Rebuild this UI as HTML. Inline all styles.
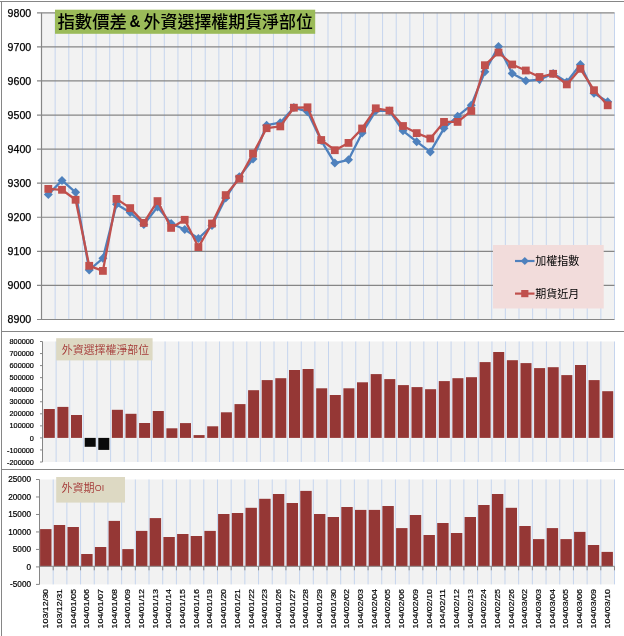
<!DOCTYPE html>
<html lang="zh-Hant"><head><meta charset="utf-8"><title>指數價差 &amp; 外資選擇權期貨淨部位</title>
<style>html,body{margin:0;padding:0;background:#fff}svg{display:block}</style></head>
<body>
<svg width="624" height="636" viewBox="0 0 624 636">
<rect width="624" height="636" fill="#fff"/>
<g fill="#868686" shape-rendering="crispEdges">
<rect x="0" y="1" width="624" height="1"/>
<rect x="1" y="1" width="1" height="636"/>
<rect x="1" y="331" width="624" height="1"/>
<rect x="1" y="468.5" width="624" height="1"/>
</g>
<rect x="41.5" y="12.8" width="573.0" height="306.7" fill="#f2f2f2"/>
<g stroke="#c6d5ee" stroke-width="1">
<line x1="55.14" y1="12.8" x2="55.14" y2="319.5"/>
<line x1="68.79" y1="12.8" x2="68.79" y2="319.5"/>
<line x1="82.43" y1="12.8" x2="82.43" y2="319.5"/>
<line x1="96.07" y1="12.8" x2="96.07" y2="319.5"/>
<line x1="109.71" y1="12.8" x2="109.71" y2="319.5"/>
<line x1="123.36" y1="12.8" x2="123.36" y2="319.5"/>
<line x1="137.00" y1="12.8" x2="137.00" y2="319.5"/>
<line x1="150.64" y1="12.8" x2="150.64" y2="319.5"/>
<line x1="164.29" y1="12.8" x2="164.29" y2="319.5"/>
<line x1="177.93" y1="12.8" x2="177.93" y2="319.5"/>
<line x1="191.57" y1="12.8" x2="191.57" y2="319.5"/>
<line x1="205.21" y1="12.8" x2="205.21" y2="319.5"/>
<line x1="218.86" y1="12.8" x2="218.86" y2="319.5"/>
<line x1="232.50" y1="12.8" x2="232.50" y2="319.5"/>
<line x1="246.14" y1="12.8" x2="246.14" y2="319.5"/>
<line x1="259.79" y1="12.8" x2="259.79" y2="319.5"/>
<line x1="273.43" y1="12.8" x2="273.43" y2="319.5"/>
<line x1="287.07" y1="12.8" x2="287.07" y2="319.5"/>
<line x1="300.71" y1="12.8" x2="300.71" y2="319.5"/>
<line x1="314.36" y1="12.8" x2="314.36" y2="319.5"/>
<line x1="328.00" y1="12.8" x2="328.00" y2="319.5"/>
<line x1="341.64" y1="12.8" x2="341.64" y2="319.5"/>
<line x1="355.29" y1="12.8" x2="355.29" y2="319.5"/>
<line x1="368.93" y1="12.8" x2="368.93" y2="319.5"/>
<line x1="382.57" y1="12.8" x2="382.57" y2="319.5"/>
<line x1="396.21" y1="12.8" x2="396.21" y2="319.5"/>
<line x1="409.86" y1="12.8" x2="409.86" y2="319.5"/>
<line x1="423.50" y1="12.8" x2="423.50" y2="319.5"/>
<line x1="437.14" y1="12.8" x2="437.14" y2="319.5"/>
<line x1="450.79" y1="12.8" x2="450.79" y2="319.5"/>
<line x1="464.43" y1="12.8" x2="464.43" y2="319.5"/>
<line x1="478.07" y1="12.8" x2="478.07" y2="319.5"/>
<line x1="491.71" y1="12.8" x2="491.71" y2="319.5"/>
<line x1="505.36" y1="12.8" x2="505.36" y2="319.5"/>
<line x1="519.00" y1="12.8" x2="519.00" y2="319.5"/>
<line x1="532.64" y1="12.8" x2="532.64" y2="319.5"/>
<line x1="546.29" y1="12.8" x2="546.29" y2="319.5"/>
<line x1="559.93" y1="12.8" x2="559.93" y2="319.5"/>
<line x1="573.57" y1="12.8" x2="573.57" y2="319.5"/>
<line x1="587.21" y1="12.8" x2="587.21" y2="319.5"/>
<line x1="600.86" y1="12.8" x2="600.86" y2="319.5"/>
<line x1="614.50" y1="12.8" x2="614.50" y2="319.5"/>
</g>
<g stroke="#868686" stroke-width="1.2">
<line x1="37.0" y1="12.80" x2="614.5" y2="12.80"/>
<line x1="37.0" y1="46.88" x2="614.5" y2="46.88"/>
<line x1="37.0" y1="80.96" x2="614.5" y2="80.96"/>
<line x1="37.0" y1="115.03" x2="614.5" y2="115.03"/>
<line x1="37.0" y1="149.11" x2="614.5" y2="149.11"/>
<line x1="37.0" y1="183.19" x2="614.5" y2="183.19"/>
<line x1="37.0" y1="217.27" x2="614.5" y2="217.27"/>
<line x1="37.0" y1="251.34" x2="614.5" y2="251.34"/>
<line x1="37.0" y1="285.42" x2="614.5" y2="285.42"/>
<line x1="37.0" y1="319.50" x2="614.5" y2="319.50"/>
<line x1="41.5" y1="12.8" x2="41.5" y2="319.5"/>
</g>
<g font-family="'Liberation Sans', sans-serif" font-size="10.6" fill="#000" stroke="#000" stroke-width="0.25" text-anchor="end">
<text x="31.2" y="16.70">9800</text>
<text x="31.2" y="50.78">9700</text>
<text x="31.2" y="84.86">9600</text>
<text x="31.2" y="118.93">9500</text>
<text x="31.2" y="153.01">9400</text>
<text x="31.2" y="187.09">9300</text>
<text x="31.2" y="221.17">9200</text>
<text x="31.2" y="255.24">9100</text>
<text x="31.2" y="289.32">9000</text>
<text x="31.2" y="323.40">8900</text>
</g>
<rect x="55" y="9.7" width="260.2" height="24.1" fill="#9bbb59"/>
<g font-family="'Liberation Sans', 'Noto Sans CJK TC', sans-serif" font-size="17.3" font-weight="500" fill="#000">
<text x="57.4" y="28.2" textLength="69.6" lengthAdjust="spacingAndGlyphs">指數價差</text>
<text x="129.5" y="27" font-size="17" font-weight="bold" textLength="10.9" lengthAdjust="spacingAndGlyphs">&amp;</text>
<text x="143.6" y="28.2" textLength="169.3" lengthAdjust="spacingAndGlyphs">外資選擇權期貨淨部位</text>
</g>
<rect x="493" y="245" width="110.7" height="63.5" fill="#f2dcdb"/>
<polyline points="48.3,194.5 62.0,180.4 75.6,192.3 89.2,270.0 102.9,258.3 116.5,204.3 130.2,212.5 143.8,224.6 157.5,207.0 171.1,223.5 184.8,229.5 198.4,238.5 212.0,225.5 225.7,198.1 239.3,176.7 253.0,159.1 266.6,125.2 280.2,122.7 293.9,107.6 307.5,111.7 321.2,140.6 334.8,163.1 348.5,159.8 362.1,132.9 375.8,110.8 389.4,110.9 403.0,130.8 416.7,141.7 430.3,151.9 444.0,128.3 457.6,116.2 471.2,105.2 484.9,71.8 498.5,46.4 512.2,73.4 525.8,80.8 539.5,79.6 553.1,73.4 566.8,82.0 580.4,64.5 594.0,93.3 607.7,101.7" fill="none" stroke="#4f81bd" stroke-width="2.3" stroke-linejoin="round"/>
<path d="M48.3 190.0L52.8 194.5L48.3 199.0L43.8 194.5Z" fill="#4f81bd"/>
<path d="M62.0 175.9L66.5 180.4L62.0 184.9L57.5 180.4Z" fill="#4f81bd"/>
<path d="M75.6 187.8L80.1 192.3L75.6 196.8L71.1 192.3Z" fill="#4f81bd"/>
<path d="M89.2 265.5L93.8 270.0L89.2 274.5L84.8 270.0Z" fill="#4f81bd"/>
<path d="M102.9 253.8L107.4 258.3L102.9 262.8L98.4 258.3Z" fill="#4f81bd"/>
<path d="M116.5 199.8L121.0 204.3L116.5 208.8L112.0 204.3Z" fill="#4f81bd"/>
<path d="M130.2 208.0L134.7 212.5L130.2 217.0L125.7 212.5Z" fill="#4f81bd"/>
<path d="M143.8 220.1L148.3 224.6L143.8 229.1L139.3 224.6Z" fill="#4f81bd"/>
<path d="M157.5 202.5L162.0 207.0L157.5 211.5L153.0 207.0Z" fill="#4f81bd"/>
<path d="M171.1 219.0L175.6 223.5L171.1 228.0L166.6 223.5Z" fill="#4f81bd"/>
<path d="M184.8 225.0L189.2 229.5L184.8 234.0L180.2 229.5Z" fill="#4f81bd"/>
<path d="M198.4 234.0L202.9 238.5L198.4 243.0L193.9 238.5Z" fill="#4f81bd"/>
<path d="M212.0 221.0L216.5 225.5L212.0 230.0L207.5 225.5Z" fill="#4f81bd"/>
<path d="M225.7 193.6L230.2 198.1L225.7 202.6L221.2 198.1Z" fill="#4f81bd"/>
<path d="M239.3 172.2L243.8 176.7L239.3 181.2L234.8 176.7Z" fill="#4f81bd"/>
<path d="M253.0 154.6L257.5 159.1L253.0 163.6L248.5 159.1Z" fill="#4f81bd"/>
<path d="M266.6 120.7L271.1 125.2L266.6 129.7L262.1 125.2Z" fill="#4f81bd"/>
<path d="M280.2 118.2L284.8 122.7L280.2 127.2L275.8 122.7Z" fill="#4f81bd"/>
<path d="M293.9 103.1L298.4 107.6L293.9 112.1L289.4 107.6Z" fill="#4f81bd"/>
<path d="M307.5 107.2L312.0 111.7L307.5 116.2L303.0 111.7Z" fill="#4f81bd"/>
<path d="M321.2 136.1L325.7 140.6L321.2 145.1L316.7 140.6Z" fill="#4f81bd"/>
<path d="M334.8 158.6L339.3 163.1L334.8 167.6L330.3 163.1Z" fill="#4f81bd"/>
<path d="M348.5 155.3L353.0 159.8L348.5 164.3L344.0 159.8Z" fill="#4f81bd"/>
<path d="M362.1 128.4L366.6 132.9L362.1 137.4L357.6 132.9Z" fill="#4f81bd"/>
<path d="M375.8 106.3L380.2 110.8L375.8 115.3L371.2 110.8Z" fill="#4f81bd"/>
<path d="M389.4 106.4L393.9 110.9L389.4 115.4L384.9 110.9Z" fill="#4f81bd"/>
<path d="M403.0 126.3L407.5 130.8L403.0 135.3L398.5 130.8Z" fill="#4f81bd"/>
<path d="M416.7 137.2L421.2 141.7L416.7 146.2L412.2 141.7Z" fill="#4f81bd"/>
<path d="M430.3 147.4L434.8 151.9L430.3 156.4L425.8 151.9Z" fill="#4f81bd"/>
<path d="M444.0 123.8L448.5 128.3L444.0 132.8L439.5 128.3Z" fill="#4f81bd"/>
<path d="M457.6 111.7L462.1 116.2L457.6 120.7L453.1 116.2Z" fill="#4f81bd"/>
<path d="M471.2 100.7L475.8 105.2L471.2 109.7L466.8 105.2Z" fill="#4f81bd"/>
<path d="M484.9 67.3L489.4 71.8L484.9 76.3L480.4 71.8Z" fill="#4f81bd"/>
<path d="M498.5 41.9L503.0 46.4L498.5 50.9L494.0 46.4Z" fill="#4f81bd"/>
<path d="M512.2 68.9L516.7 73.4L512.2 77.9L507.7 73.4Z" fill="#4f81bd"/>
<path d="M525.8 76.3L530.3 80.8L525.8 85.3L521.3 80.8Z" fill="#4f81bd"/>
<path d="M539.5 75.1L544.0 79.6L539.5 84.1L535.0 79.6Z" fill="#4f81bd"/>
<path d="M553.1 68.9L557.6 73.4L553.1 77.9L548.6 73.4Z" fill="#4f81bd"/>
<path d="M566.8 77.5L571.2 82.0L566.8 86.5L562.2 82.0Z" fill="#4f81bd"/>
<path d="M580.4 60.0L584.9 64.5L580.4 69.0L575.9 64.5Z" fill="#4f81bd"/>
<path d="M594.0 88.8L598.5 93.3L594.0 97.8L589.5 93.3Z" fill="#4f81bd"/>
<path d="M607.7 97.2L612.2 101.7L607.7 106.2L603.2 101.7Z" fill="#4f81bd"/>
<polyline points="48.3,188.9 62.0,189.8 75.6,199.8 89.2,265.8 102.9,270.9 116.5,198.9 130.2,208.1 143.8,222.9 157.5,201.1 171.1,227.9 184.8,219.8 198.4,247.1 212.0,223.5 225.7,195.1 239.3,178.7 253.0,153.6 266.6,128.2 280.2,126.4 293.9,107.7 307.5,107.3 321.2,140.0 334.8,150.2 348.5,142.9 362.1,128.5 375.8,108.3 389.4,110.6 403.0,126.0 416.7,133.1 430.3,138.5 444.0,121.9 457.6,121.9 471.2,111.0 484.9,65.2 498.5,52.5 512.2,64.5 525.8,70.5 539.5,77.0 553.1,73.8 566.8,84.4 580.4,68.8 594.0,90.2 607.7,105.3" fill="none" stroke="#c0504d" stroke-width="2.3" stroke-linejoin="round"/>
<rect x="44.4" y="185.0" width="7.8" height="7.8" fill="#c0504d"/>
<rect x="58.1" y="185.9" width="7.8" height="7.8" fill="#c0504d"/>
<rect x="71.7" y="195.9" width="7.8" height="7.8" fill="#c0504d"/>
<rect x="85.3" y="261.9" width="7.8" height="7.8" fill="#c0504d"/>
<rect x="99.0" y="267.0" width="7.8" height="7.8" fill="#c0504d"/>
<rect x="112.6" y="195.0" width="7.8" height="7.8" fill="#c0504d"/>
<rect x="126.3" y="204.2" width="7.8" height="7.8" fill="#c0504d"/>
<rect x="139.9" y="219.0" width="7.8" height="7.8" fill="#c0504d"/>
<rect x="153.6" y="197.2" width="7.8" height="7.8" fill="#c0504d"/>
<rect x="167.2" y="224.0" width="7.8" height="7.8" fill="#c0504d"/>
<rect x="180.8" y="215.9" width="7.8" height="7.8" fill="#c0504d"/>
<rect x="194.5" y="243.2" width="7.8" height="7.8" fill="#c0504d"/>
<rect x="208.1" y="219.6" width="7.8" height="7.8" fill="#c0504d"/>
<rect x="221.8" y="191.2" width="7.8" height="7.8" fill="#c0504d"/>
<rect x="235.4" y="174.8" width="7.8" height="7.8" fill="#c0504d"/>
<rect x="249.1" y="149.7" width="7.8" height="7.8" fill="#c0504d"/>
<rect x="262.7" y="124.3" width="7.8" height="7.8" fill="#c0504d"/>
<rect x="276.4" y="122.5" width="7.8" height="7.8" fill="#c0504d"/>
<rect x="290.0" y="103.8" width="7.8" height="7.8" fill="#c0504d"/>
<rect x="303.6" y="103.4" width="7.8" height="7.8" fill="#c0504d"/>
<rect x="317.3" y="136.1" width="7.8" height="7.8" fill="#c0504d"/>
<rect x="330.9" y="146.3" width="7.8" height="7.8" fill="#c0504d"/>
<rect x="344.6" y="139.0" width="7.8" height="7.8" fill="#c0504d"/>
<rect x="358.2" y="124.6" width="7.8" height="7.8" fill="#c0504d"/>
<rect x="371.9" y="104.4" width="7.8" height="7.8" fill="#c0504d"/>
<rect x="385.5" y="106.7" width="7.8" height="7.8" fill="#c0504d"/>
<rect x="399.1" y="122.1" width="7.8" height="7.8" fill="#c0504d"/>
<rect x="412.8" y="129.2" width="7.8" height="7.8" fill="#c0504d"/>
<rect x="426.4" y="134.6" width="7.8" height="7.8" fill="#c0504d"/>
<rect x="440.1" y="118.0" width="7.8" height="7.8" fill="#c0504d"/>
<rect x="453.7" y="118.0" width="7.8" height="7.8" fill="#c0504d"/>
<rect x="467.4" y="107.1" width="7.8" height="7.8" fill="#c0504d"/>
<rect x="481.0" y="61.3" width="7.8" height="7.8" fill="#c0504d"/>
<rect x="494.6" y="48.6" width="7.8" height="7.8" fill="#c0504d"/>
<rect x="508.3" y="60.6" width="7.8" height="7.8" fill="#c0504d"/>
<rect x="521.9" y="66.6" width="7.8" height="7.8" fill="#c0504d"/>
<rect x="535.6" y="73.1" width="7.8" height="7.8" fill="#c0504d"/>
<rect x="549.2" y="69.9" width="7.8" height="7.8" fill="#c0504d"/>
<rect x="562.9" y="80.5" width="7.8" height="7.8" fill="#c0504d"/>
<rect x="576.5" y="64.9" width="7.8" height="7.8" fill="#c0504d"/>
<rect x="590.1" y="86.3" width="7.8" height="7.8" fill="#c0504d"/>
<rect x="603.8" y="101.4" width="7.8" height="7.8" fill="#c0504d"/>
<line x1="515" y1="261" x2="534.5" y2="261" stroke="#4f81bd" stroke-width="2.2"/>
<path d="M524.8 256.9L528.9 261L524.8 265.1L520.7 261Z" fill="#4f81bd"/>
<line x1="515" y1="293.6" x2="534.5" y2="293.6" stroke="#c0504d" stroke-width="2.2"/>
<rect x="521.2" y="290" width="7.2" height="7.2" fill="#c0504d"/>
<g font-family="'Liberation Sans', 'Noto Sans CJK TC', sans-serif" font-size="11" fill="#000">
<text x="535.2" y="265">加權指數</text>
<text x="535.2" y="297.6">期貨近月</text>
</g>
<rect x="42.5" y="341.5" width="572.0" height="120.5" fill="#f2f2f2"/>
<g stroke="#c6d5ee" stroke-width="1">
<line x1="56.12" y1="341.5" x2="56.12" y2="462.0"/>
<line x1="69.74" y1="341.5" x2="69.74" y2="462.0"/>
<line x1="83.36" y1="341.5" x2="83.36" y2="462.0"/>
<line x1="96.98" y1="341.5" x2="96.98" y2="462.0"/>
<line x1="110.60" y1="341.5" x2="110.60" y2="462.0"/>
<line x1="124.21" y1="341.5" x2="124.21" y2="462.0"/>
<line x1="137.83" y1="341.5" x2="137.83" y2="462.0"/>
<line x1="151.45" y1="341.5" x2="151.45" y2="462.0"/>
<line x1="165.07" y1="341.5" x2="165.07" y2="462.0"/>
<line x1="178.69" y1="341.5" x2="178.69" y2="462.0"/>
<line x1="192.31" y1="341.5" x2="192.31" y2="462.0"/>
<line x1="205.93" y1="341.5" x2="205.93" y2="462.0"/>
<line x1="219.55" y1="341.5" x2="219.55" y2="462.0"/>
<line x1="233.17" y1="341.5" x2="233.17" y2="462.0"/>
<line x1="246.79" y1="341.5" x2="246.79" y2="462.0"/>
<line x1="260.40" y1="341.5" x2="260.40" y2="462.0"/>
<line x1="274.02" y1="341.5" x2="274.02" y2="462.0"/>
<line x1="287.64" y1="341.5" x2="287.64" y2="462.0"/>
<line x1="301.26" y1="341.5" x2="301.26" y2="462.0"/>
<line x1="314.88" y1="341.5" x2="314.88" y2="462.0"/>
<line x1="328.50" y1="341.5" x2="328.50" y2="462.0"/>
<line x1="342.12" y1="341.5" x2="342.12" y2="462.0"/>
<line x1="355.74" y1="341.5" x2="355.74" y2="462.0"/>
<line x1="369.36" y1="341.5" x2="369.36" y2="462.0"/>
<line x1="382.98" y1="341.5" x2="382.98" y2="462.0"/>
<line x1="396.60" y1="341.5" x2="396.60" y2="462.0"/>
<line x1="410.21" y1="341.5" x2="410.21" y2="462.0"/>
<line x1="423.83" y1="341.5" x2="423.83" y2="462.0"/>
<line x1="437.45" y1="341.5" x2="437.45" y2="462.0"/>
<line x1="451.07" y1="341.5" x2="451.07" y2="462.0"/>
<line x1="464.69" y1="341.5" x2="464.69" y2="462.0"/>
<line x1="478.31" y1="341.5" x2="478.31" y2="462.0"/>
<line x1="491.93" y1="341.5" x2="491.93" y2="462.0"/>
<line x1="505.55" y1="341.5" x2="505.55" y2="462.0"/>
<line x1="519.17" y1="341.5" x2="519.17" y2="462.0"/>
<line x1="532.79" y1="341.5" x2="532.79" y2="462.0"/>
<line x1="546.40" y1="341.5" x2="546.40" y2="462.0"/>
<line x1="560.02" y1="341.5" x2="560.02" y2="462.0"/>
<line x1="573.64" y1="341.5" x2="573.64" y2="462.0"/>
<line x1="587.26" y1="341.5" x2="587.26" y2="462.0"/>
<line x1="600.88" y1="341.5" x2="600.88" y2="462.0"/>
<line x1="614.50" y1="341.5" x2="614.50" y2="462.0"/>
</g>
<g stroke="#868686" stroke-width="1">
<line x1="42.5" y1="341.5" x2="42.5" y2="462.0"/>
<line x1="40.0" y1="341.50" x2="42.5" y2="341.50"/>
<line x1="40.0" y1="353.55" x2="42.5" y2="353.55"/>
<line x1="40.0" y1="365.60" x2="42.5" y2="365.60"/>
<line x1="40.0" y1="377.65" x2="42.5" y2="377.65"/>
<line x1="40.0" y1="389.70" x2="42.5" y2="389.70"/>
<line x1="40.0" y1="401.75" x2="42.5" y2="401.75"/>
<line x1="40.0" y1="413.80" x2="42.5" y2="413.80"/>
<line x1="40.0" y1="425.85" x2="42.5" y2="425.85"/>
<line x1="40.0" y1="437.90" x2="42.5" y2="437.90"/>
<line x1="40.0" y1="449.95" x2="42.5" y2="449.95"/>
<line x1="40.0" y1="462.00" x2="42.5" y2="462.00"/>
</g>
<g font-family="'Liberation Sans', sans-serif" font-size="7.3" fill="#000" stroke="#000" stroke-width="0.2" text-anchor="end">
<text x="33.9" y="344.10">800000</text>
<text x="33.9" y="356.15">700000</text>
<text x="33.9" y="368.20">600000</text>
<text x="33.9" y="380.25">500000</text>
<text x="33.9" y="392.30">400000</text>
<text x="33.9" y="404.35">300000</text>
<text x="33.9" y="416.40">200000</text>
<text x="33.9" y="428.45">100000</text>
<text x="33.9" y="440.50">0</text>
<text x="33.9" y="452.55">-100000</text>
<text x="33.9" y="464.60">-200000</text>
</g>
<rect x="43.8" y="409.0" width="11.0" height="28.9" fill="#953735"/>
<rect x="57.4" y="406.9" width="11.0" height="31.0" fill="#953735"/>
<rect x="71.0" y="415.0" width="11.0" height="22.9" fill="#953735"/>
<rect x="84.7" y="437.9" width="11.0" height="8.9" fill="#0a0a0a"/>
<rect x="98.3" y="437.9" width="11.0" height="12.0" fill="#0a0a0a"/>
<rect x="111.9" y="409.8" width="11.0" height="28.1" fill="#953735"/>
<rect x="125.5" y="413.8" width="11.0" height="24.1" fill="#953735"/>
<rect x="139.1" y="423.0" width="11.0" height="14.9" fill="#953735"/>
<rect x="152.8" y="411.0" width="11.0" height="26.9" fill="#953735"/>
<rect x="166.4" y="428.3" width="11.0" height="9.6" fill="#953735"/>
<rect x="180.0" y="423.1" width="11.0" height="14.8" fill="#953735"/>
<rect x="193.6" y="435.1" width="11.0" height="2.8" fill="#953735"/>
<rect x="207.2" y="426.3" width="11.0" height="11.6" fill="#953735"/>
<rect x="220.9" y="412.3" width="11.0" height="25.6" fill="#953735"/>
<rect x="234.5" y="404.1" width="11.0" height="33.8" fill="#953735"/>
<rect x="248.1" y="390.2" width="11.0" height="47.7" fill="#953735"/>
<rect x="261.7" y="380.1" width="11.0" height="57.8" fill="#953735"/>
<rect x="275.3" y="378.2" width="11.0" height="59.7" fill="#953735"/>
<rect x="289.0" y="370.0" width="11.0" height="67.9" fill="#953735"/>
<rect x="302.6" y="369.0" width="11.0" height="68.9" fill="#953735"/>
<rect x="316.2" y="388.3" width="11.0" height="49.6" fill="#953735"/>
<rect x="329.8" y="395.0" width="11.0" height="42.9" fill="#953735"/>
<rect x="343.4" y="388.3" width="11.0" height="49.6" fill="#953735"/>
<rect x="357.0" y="382.3" width="11.0" height="55.6" fill="#953735"/>
<rect x="370.7" y="374.1" width="11.0" height="63.8" fill="#953735"/>
<rect x="384.3" y="379.1" width="11.0" height="58.8" fill="#953735"/>
<rect x="397.9" y="385.1" width="11.0" height="52.8" fill="#953735"/>
<rect x="411.5" y="387.1" width="11.0" height="50.8" fill="#953735"/>
<rect x="425.1" y="389.2" width="11.0" height="48.7" fill="#953735"/>
<rect x="438.8" y="381.1" width="11.0" height="56.8" fill="#953735"/>
<rect x="452.4" y="378.2" width="11.0" height="59.7" fill="#953735"/>
<rect x="466.0" y="377.2" width="11.0" height="60.7" fill="#953735"/>
<rect x="479.6" y="362.1" width="11.0" height="75.8" fill="#953735"/>
<rect x="493.2" y="352.0" width="11.0" height="85.9" fill="#953735"/>
<rect x="506.9" y="360.2" width="11.0" height="77.7" fill="#953735"/>
<rect x="520.5" y="363.1" width="11.0" height="74.8" fill="#953735"/>
<rect x="534.1" y="368.1" width="11.0" height="69.8" fill="#953735"/>
<rect x="547.7" y="367.2" width="11.0" height="70.7" fill="#953735"/>
<rect x="561.3" y="375.1" width="11.0" height="62.8" fill="#953735"/>
<rect x="575.0" y="365.0" width="11.0" height="72.9" fill="#953735"/>
<rect x="588.6" y="380.1" width="11.0" height="57.8" fill="#953735"/>
<rect x="602.2" y="391.2" width="11.0" height="46.7" fill="#953735"/>
<rect x="56.2" y="338.2" width="96.4" height="22.2" fill="#ddd9c3"/>
<text x="61.8" y="353.6" font-family="'Liberation Sans', 'Noto Sans CJK TC', sans-serif" font-size="11" font-weight="350" fill="#a53a38" textLength="87.4" lengthAdjust="spacingAndGlyphs">外資選擇權淨部位</text>
<rect x="39.5" y="479.5" width="575.0" height="104.89999999999998" fill="#f2f2f2"/>
<g stroke="#c6d5ee" stroke-width="1">
<line x1="53.19" y1="479.5" x2="53.19" y2="584.4"/>
<line x1="66.88" y1="479.5" x2="66.88" y2="584.4"/>
<line x1="80.57" y1="479.5" x2="80.57" y2="584.4"/>
<line x1="94.26" y1="479.5" x2="94.26" y2="584.4"/>
<line x1="107.95" y1="479.5" x2="107.95" y2="584.4"/>
<line x1="121.64" y1="479.5" x2="121.64" y2="584.4"/>
<line x1="135.33" y1="479.5" x2="135.33" y2="584.4"/>
<line x1="149.02" y1="479.5" x2="149.02" y2="584.4"/>
<line x1="162.71" y1="479.5" x2="162.71" y2="584.4"/>
<line x1="176.40" y1="479.5" x2="176.40" y2="584.4"/>
<line x1="190.10" y1="479.5" x2="190.10" y2="584.4"/>
<line x1="203.79" y1="479.5" x2="203.79" y2="584.4"/>
<line x1="217.48" y1="479.5" x2="217.48" y2="584.4"/>
<line x1="231.17" y1="479.5" x2="231.17" y2="584.4"/>
<line x1="244.86" y1="479.5" x2="244.86" y2="584.4"/>
<line x1="258.55" y1="479.5" x2="258.55" y2="584.4"/>
<line x1="272.24" y1="479.5" x2="272.24" y2="584.4"/>
<line x1="285.93" y1="479.5" x2="285.93" y2="584.4"/>
<line x1="299.62" y1="479.5" x2="299.62" y2="584.4"/>
<line x1="313.31" y1="479.5" x2="313.31" y2="584.4"/>
<line x1="327.00" y1="479.5" x2="327.00" y2="584.4"/>
<line x1="340.69" y1="479.5" x2="340.69" y2="584.4"/>
<line x1="354.38" y1="479.5" x2="354.38" y2="584.4"/>
<line x1="368.07" y1="479.5" x2="368.07" y2="584.4"/>
<line x1="381.76" y1="479.5" x2="381.76" y2="584.4"/>
<line x1="395.45" y1="479.5" x2="395.45" y2="584.4"/>
<line x1="409.14" y1="479.5" x2="409.14" y2="584.4"/>
<line x1="422.83" y1="479.5" x2="422.83" y2="584.4"/>
<line x1="436.52" y1="479.5" x2="436.52" y2="584.4"/>
<line x1="450.21" y1="479.5" x2="450.21" y2="584.4"/>
<line x1="463.90" y1="479.5" x2="463.90" y2="584.4"/>
<line x1="477.60" y1="479.5" x2="477.60" y2="584.4"/>
<line x1="491.29" y1="479.5" x2="491.29" y2="584.4"/>
<line x1="504.98" y1="479.5" x2="504.98" y2="584.4"/>
<line x1="518.67" y1="479.5" x2="518.67" y2="584.4"/>
<line x1="532.36" y1="479.5" x2="532.36" y2="584.4"/>
<line x1="546.05" y1="479.5" x2="546.05" y2="584.4"/>
<line x1="559.74" y1="479.5" x2="559.74" y2="584.4"/>
<line x1="573.43" y1="479.5" x2="573.43" y2="584.4"/>
<line x1="587.12" y1="479.5" x2="587.12" y2="584.4"/>
<line x1="600.81" y1="479.5" x2="600.81" y2="584.4"/>
<line x1="614.50" y1="479.5" x2="614.50" y2="584.4"/>
</g>
<rect x="40.1" y="529.1" width="11.4" height="37.2" fill="#953735"/>
<rect x="53.8" y="525.0" width="11.4" height="41.3" fill="#953735"/>
<rect x="67.5" y="527.0" width="11.4" height="39.3" fill="#953735"/>
<rect x="81.2" y="554.0" width="11.4" height="12.3" fill="#953735"/>
<rect x="94.9" y="547.0" width="11.4" height="19.3" fill="#953735"/>
<rect x="108.6" y="520.9" width="11.4" height="45.4" fill="#953735"/>
<rect x="122.3" y="549.1" width="11.4" height="17.2" fill="#953735"/>
<rect x="136.0" y="530.9" width="11.4" height="35.4" fill="#953735"/>
<rect x="149.7" y="518.1" width="11.4" height="48.2" fill="#953735"/>
<rect x="163.4" y="537.0" width="11.4" height="29.3" fill="#953735"/>
<rect x="177.1" y="534.0" width="11.4" height="32.3" fill="#953735"/>
<rect x="190.7" y="536.0" width="11.4" height="30.3" fill="#953735"/>
<rect x="204.4" y="530.9" width="11.4" height="35.4" fill="#953735"/>
<rect x="218.1" y="514.0" width="11.4" height="52.3" fill="#953735"/>
<rect x="231.8" y="513.0" width="11.4" height="53.3" fill="#953735"/>
<rect x="245.5" y="507.8" width="11.4" height="58.5" fill="#953735"/>
<rect x="259.2" y="498.8" width="11.4" height="67.5" fill="#953735"/>
<rect x="272.9" y="494.0" width="11.4" height="72.3" fill="#953735"/>
<rect x="286.6" y="503.0" width="11.4" height="63.3" fill="#953735"/>
<rect x="300.3" y="490.9" width="11.4" height="75.4" fill="#953735"/>
<rect x="314.0" y="514.0" width="11.4" height="52.3" fill="#953735"/>
<rect x="327.6" y="517.0" width="11.4" height="49.3" fill="#953735"/>
<rect x="341.3" y="507.0" width="11.4" height="59.3" fill="#953735"/>
<rect x="355.0" y="509.9" width="11.4" height="56.4" fill="#953735"/>
<rect x="368.7" y="509.9" width="11.4" height="56.4" fill="#953735"/>
<rect x="382.4" y="506.0" width="11.4" height="60.3" fill="#953735"/>
<rect x="396.1" y="528.1" width="11.4" height="38.2" fill="#953735"/>
<rect x="409.8" y="515.0" width="11.4" height="51.3" fill="#953735"/>
<rect x="423.5" y="535.0" width="11.4" height="31.3" fill="#953735"/>
<rect x="437.2" y="523.0" width="11.4" height="43.3" fill="#953735"/>
<rect x="450.9" y="533.0" width="11.4" height="33.3" fill="#953735"/>
<rect x="464.6" y="517.0" width="11.4" height="49.3" fill="#953735"/>
<rect x="478.2" y="505.0" width="11.4" height="61.3" fill="#953735"/>
<rect x="491.9" y="494.0" width="11.4" height="72.3" fill="#953735"/>
<rect x="505.6" y="507.8" width="11.4" height="58.5" fill="#953735"/>
<rect x="519.3" y="526.0" width="11.4" height="40.3" fill="#953735"/>
<rect x="533.0" y="539.1" width="11.4" height="27.2" fill="#953735"/>
<rect x="546.7" y="528.1" width="11.4" height="38.2" fill="#953735"/>
<rect x="560.4" y="539.1" width="11.4" height="27.2" fill="#953735"/>
<rect x="574.1" y="531.9" width="11.4" height="34.4" fill="#953735"/>
<rect x="587.8" y="545.0" width="11.4" height="21.3" fill="#953735"/>
<rect x="601.5" y="551.9" width="11.4" height="14.4" fill="#953735"/>
<g stroke="#868686" stroke-width="1">
<line x1="39.5" y1="479.5" x2="39.5" y2="584.4"/>
<line x1="36.0" y1="479.50" x2="39.5" y2="479.50"/>
<line x1="36.0" y1="496.98" x2="39.5" y2="496.98"/>
<line x1="36.0" y1="514.47" x2="39.5" y2="514.47"/>
<line x1="36.0" y1="531.95" x2="39.5" y2="531.95"/>
<line x1="36.0" y1="549.43" x2="39.5" y2="549.43"/>
<line x1="36.0" y1="566.92" x2="39.5" y2="566.92"/>
<line x1="36.0" y1="584.40" x2="39.5" y2="584.40"/>
<line x1="39.5" y1="566.3" x2="614.5" y2="566.3"/>
<line x1="53.19" y1="566.3" x2="53.19" y2="570.3"/>
<line x1="66.88" y1="566.3" x2="66.88" y2="570.3"/>
<line x1="80.57" y1="566.3" x2="80.57" y2="570.3"/>
<line x1="94.26" y1="566.3" x2="94.26" y2="570.3"/>
<line x1="107.95" y1="566.3" x2="107.95" y2="570.3"/>
<line x1="121.64" y1="566.3" x2="121.64" y2="570.3"/>
<line x1="135.33" y1="566.3" x2="135.33" y2="570.3"/>
<line x1="149.02" y1="566.3" x2="149.02" y2="570.3"/>
<line x1="162.71" y1="566.3" x2="162.71" y2="570.3"/>
<line x1="176.40" y1="566.3" x2="176.40" y2="570.3"/>
<line x1="190.10" y1="566.3" x2="190.10" y2="570.3"/>
<line x1="203.79" y1="566.3" x2="203.79" y2="570.3"/>
<line x1="217.48" y1="566.3" x2="217.48" y2="570.3"/>
<line x1="231.17" y1="566.3" x2="231.17" y2="570.3"/>
<line x1="244.86" y1="566.3" x2="244.86" y2="570.3"/>
<line x1="258.55" y1="566.3" x2="258.55" y2="570.3"/>
<line x1="272.24" y1="566.3" x2="272.24" y2="570.3"/>
<line x1="285.93" y1="566.3" x2="285.93" y2="570.3"/>
<line x1="299.62" y1="566.3" x2="299.62" y2="570.3"/>
<line x1="313.31" y1="566.3" x2="313.31" y2="570.3"/>
<line x1="327.00" y1="566.3" x2="327.00" y2="570.3"/>
<line x1="340.69" y1="566.3" x2="340.69" y2="570.3"/>
<line x1="354.38" y1="566.3" x2="354.38" y2="570.3"/>
<line x1="368.07" y1="566.3" x2="368.07" y2="570.3"/>
<line x1="381.76" y1="566.3" x2="381.76" y2="570.3"/>
<line x1="395.45" y1="566.3" x2="395.45" y2="570.3"/>
<line x1="409.14" y1="566.3" x2="409.14" y2="570.3"/>
<line x1="422.83" y1="566.3" x2="422.83" y2="570.3"/>
<line x1="436.52" y1="566.3" x2="436.52" y2="570.3"/>
<line x1="450.21" y1="566.3" x2="450.21" y2="570.3"/>
<line x1="463.90" y1="566.3" x2="463.90" y2="570.3"/>
<line x1="477.60" y1="566.3" x2="477.60" y2="570.3"/>
<line x1="491.29" y1="566.3" x2="491.29" y2="570.3"/>
<line x1="504.98" y1="566.3" x2="504.98" y2="570.3"/>
<line x1="518.67" y1="566.3" x2="518.67" y2="570.3"/>
<line x1="532.36" y1="566.3" x2="532.36" y2="570.3"/>
<line x1="546.05" y1="566.3" x2="546.05" y2="570.3"/>
<line x1="559.74" y1="566.3" x2="559.74" y2="570.3"/>
<line x1="573.43" y1="566.3" x2="573.43" y2="570.3"/>
<line x1="587.12" y1="566.3" x2="587.12" y2="570.3"/>
<line x1="600.81" y1="566.3" x2="600.81" y2="570.3"/>
<line x1="614.50" y1="566.3" x2="614.50" y2="570.3"/>
</g>
<g font-family="'Liberation Sans', sans-serif" font-size="8.2" fill="#000" stroke="#000" stroke-width="0.2" text-anchor="end">
<text x="31" y="482.10">25000</text>
<text x="31" y="499.58">20000</text>
<text x="31" y="517.07">15000</text>
<text x="31" y="534.55">10000</text>
<text x="31" y="552.03">5000</text>
<text x="31" y="569.52">0</text>
<text x="31" y="587.00">-5000</text>
</g>
<rect x="56.2" y="477" width="68.8" height="25.6" fill="#ddd9c3"/>
<text font-family="'Liberation Sans', 'Noto Sans CJK TC', sans-serif" fill="#a53a38"><tspan x="61.4" y="491.9" font-size="11" font-weight="350">外資期</tspan><tspan font-size="8.8" dx="0.4" dy="-0.9">OI</tspan></text>
<g font-family="'Liberation Sans', sans-serif" font-size="8" fill="#000" stroke="#000" stroke-width="0.2">
<text transform="translate(48.1 628.4) rotate(-90)" textLength="39.4" lengthAdjust="spacingAndGlyphs">103/12/30</text>
<text transform="translate(61.8 628.4) rotate(-90)" textLength="39.4" lengthAdjust="spacingAndGlyphs">103/12/31</text>
<text transform="translate(75.5 628.4) rotate(-90)" textLength="39.4" lengthAdjust="spacingAndGlyphs">104/01/05</text>
<text transform="translate(89.2 628.4) rotate(-90)" textLength="39.4" lengthAdjust="spacingAndGlyphs">104/01/06</text>
<text transform="translate(102.9 628.4) rotate(-90)" textLength="39.4" lengthAdjust="spacingAndGlyphs">104/01/07</text>
<text transform="translate(116.6 628.4) rotate(-90)" textLength="39.4" lengthAdjust="spacingAndGlyphs">104/01/08</text>
<text transform="translate(130.3 628.4) rotate(-90)" textLength="39.4" lengthAdjust="spacingAndGlyphs">104/01/09</text>
<text transform="translate(144.0 628.4) rotate(-90)" textLength="39.4" lengthAdjust="spacingAndGlyphs">104/01/12</text>
<text transform="translate(157.7 628.4) rotate(-90)" textLength="39.4" lengthAdjust="spacingAndGlyphs">104/01/13</text>
<text transform="translate(171.4 628.4) rotate(-90)" textLength="39.4" lengthAdjust="spacingAndGlyphs">104/01/14</text>
<text transform="translate(185.1 628.4) rotate(-90)" textLength="39.4" lengthAdjust="spacingAndGlyphs">104/01/15</text>
<text transform="translate(198.7 628.4) rotate(-90)" textLength="39.4" lengthAdjust="spacingAndGlyphs">104/01/16</text>
<text transform="translate(212.4 628.4) rotate(-90)" textLength="39.4" lengthAdjust="spacingAndGlyphs">104/01/19</text>
<text transform="translate(226.1 628.4) rotate(-90)" textLength="39.4" lengthAdjust="spacingAndGlyphs">104/01/20</text>
<text transform="translate(239.8 628.4) rotate(-90)" textLength="39.4" lengthAdjust="spacingAndGlyphs">104/01/21</text>
<text transform="translate(253.5 628.4) rotate(-90)" textLength="39.4" lengthAdjust="spacingAndGlyphs">104/01/22</text>
<text transform="translate(267.2 628.4) rotate(-90)" textLength="39.4" lengthAdjust="spacingAndGlyphs">104/01/23</text>
<text transform="translate(280.9 628.4) rotate(-90)" textLength="39.4" lengthAdjust="spacingAndGlyphs">104/01/26</text>
<text transform="translate(294.6 628.4) rotate(-90)" textLength="39.4" lengthAdjust="spacingAndGlyphs">104/01/27</text>
<text transform="translate(308.3 628.4) rotate(-90)" textLength="39.4" lengthAdjust="spacingAndGlyphs">104/01/28</text>
<text transform="translate(322.0 628.4) rotate(-90)" textLength="39.4" lengthAdjust="spacingAndGlyphs">104/01/29</text>
<text transform="translate(335.6 628.4) rotate(-90)" textLength="39.4" lengthAdjust="spacingAndGlyphs">104/01/30</text>
<text transform="translate(349.3 628.4) rotate(-90)" textLength="39.4" lengthAdjust="spacingAndGlyphs">104/02/02</text>
<text transform="translate(363.0 628.4) rotate(-90)" textLength="39.4" lengthAdjust="spacingAndGlyphs">104/02/03</text>
<text transform="translate(376.7 628.4) rotate(-90)" textLength="39.4" lengthAdjust="spacingAndGlyphs">104/02/04</text>
<text transform="translate(390.4 628.4) rotate(-90)" textLength="39.4" lengthAdjust="spacingAndGlyphs">104/02/05</text>
<text transform="translate(404.1 628.4) rotate(-90)" textLength="39.4" lengthAdjust="spacingAndGlyphs">104/02/06</text>
<text transform="translate(417.8 628.4) rotate(-90)" textLength="39.4" lengthAdjust="spacingAndGlyphs">104/02/09</text>
<text transform="translate(431.5 628.4) rotate(-90)" textLength="39.4" lengthAdjust="spacingAndGlyphs">104/02/10</text>
<text transform="translate(445.2 628.4) rotate(-90)" textLength="39.4" lengthAdjust="spacingAndGlyphs">104/02/11</text>
<text transform="translate(458.9 628.4) rotate(-90)" textLength="39.4" lengthAdjust="spacingAndGlyphs">104/02/12</text>
<text transform="translate(472.6 628.4) rotate(-90)" textLength="39.4" lengthAdjust="spacingAndGlyphs">104/02/13</text>
<text transform="translate(486.2 628.4) rotate(-90)" textLength="39.4" lengthAdjust="spacingAndGlyphs">104/02/24</text>
<text transform="translate(499.9 628.4) rotate(-90)" textLength="39.4" lengthAdjust="spacingAndGlyphs">104/02/25</text>
<text transform="translate(513.6 628.4) rotate(-90)" textLength="39.4" lengthAdjust="spacingAndGlyphs">104/02/26</text>
<text transform="translate(527.3 628.4) rotate(-90)" textLength="39.4" lengthAdjust="spacingAndGlyphs">104/03/02</text>
<text transform="translate(541.0 628.4) rotate(-90)" textLength="39.4" lengthAdjust="spacingAndGlyphs">104/03/03</text>
<text transform="translate(554.7 628.4) rotate(-90)" textLength="39.4" lengthAdjust="spacingAndGlyphs">104/03/04</text>
<text transform="translate(568.4 628.4) rotate(-90)" textLength="39.4" lengthAdjust="spacingAndGlyphs">104/03/05</text>
<text transform="translate(582.1 628.4) rotate(-90)" textLength="39.4" lengthAdjust="spacingAndGlyphs">104/03/06</text>
<text transform="translate(595.8 628.4) rotate(-90)" textLength="39.4" lengthAdjust="spacingAndGlyphs">104/03/09</text>
<text transform="translate(609.5 628.4) rotate(-90)" textLength="39.4" lengthAdjust="spacingAndGlyphs">104/03/10</text>
</g>
</svg>
</body></html>
